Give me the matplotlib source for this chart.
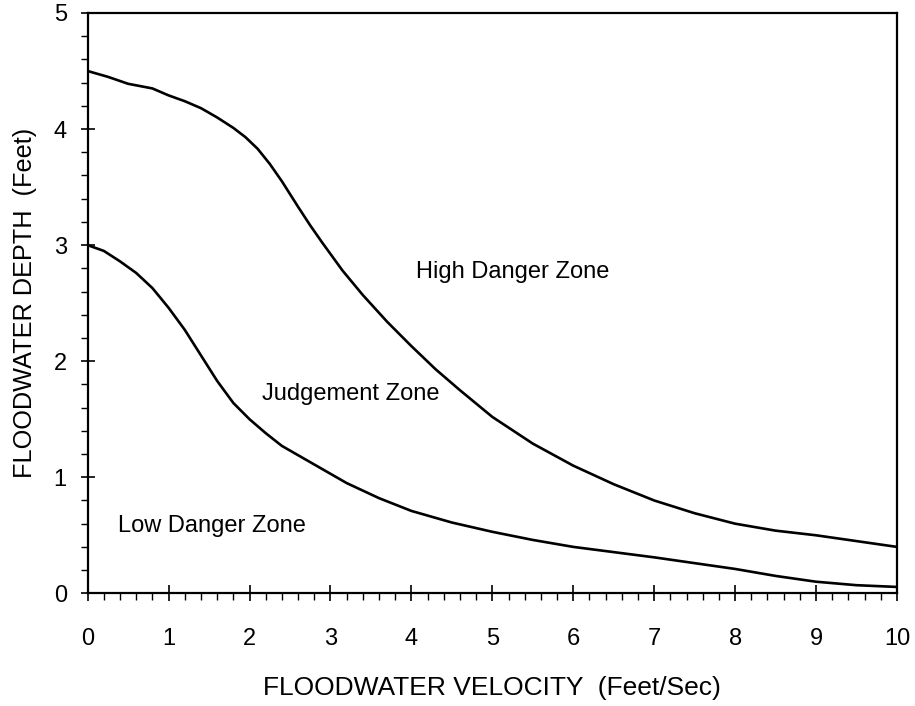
import matplotlib
matplotlib.use("Agg")
import matplotlib.pyplot as plt
from matplotlib.ticker import MultipleLocator

plt.rcParams["font.family"] = ["Liberation Sans", "DejaVu Sans"]

# upper boundary (high danger / judgement)
upper_x = [0, 0.25, 0.5, 0.8, 1.0, 1.2, 1.4, 1.6, 1.8, 1.95, 2.1, 2.25, 2.4, 2.6, 2.75, 2.9, 3.15, 3.4, 3.7, 4.0,
           4.3, 4.6, 5.0, 5.5, 6.0, 6.5, 7.0, 7.5, 8.0, 8.5, 9.0, 9.5, 10.0]
upper_y = [4.5, 4.45, 4.39, 4.35, 4.29, 4.24, 4.18, 4.10, 4.01, 3.93, 3.83, 3.70, 3.55, 3.33, 3.17, 3.02, 2.78, 2.57, 2.34, 2.13,
           1.93, 1.75, 1.52, 1.29, 1.10, 0.94, 0.80, 0.69, 0.60, 0.54, 0.50, 0.45, 0.40]

# lower boundary (judgement / low danger)
lower_x = [0, 0.2, 0.4, 0.6, 0.8, 1.0, 1.2, 1.4, 1.6, 1.8, 2.0, 2.2, 2.4, 2.6, 2.85, 3.2, 3.6, 4.0, 4.5, 5.0,
           5.5, 6.0, 6.5, 7.0, 7.5, 8.0, 8.5, 9.0, 9.5, 10.0]
lower_y = [3.0, 2.95, 2.86, 2.76, 2.63, 2.46, 2.27, 2.05, 1.83, 1.64, 1.50, 1.38, 1.27, 1.19, 1.09, 0.95, 0.82, 0.71, 0.61, 0.53,
           0.46, 0.40, 0.355, 0.31, 0.26, 0.21, 0.15, 0.10, 0.07, 0.055]

zone_labels = ["High Danger Zone", "Judgement Zone", "Low Danger Zone"]
zone_x = [5.25, 3.25, 1.54]
zone_y = [2.77, 1.72, 0.58]

fig = plt.figure(figsize=(9.15, 7.06), dpi=100)
ax = fig.add_axes([0.0958, 0.1596, 0.9803 - 0.0958, 0.9816 - 0.1596])

ax.plot(upper_x, upper_y, color="black", linewidth=1.9)
ax.plot(lower_x, lower_y, color="black", linewidth=1.9)

for t, x, y in zip(zone_labels, zone_x, zone_y):
    ax.text(x, y, t, fontsize=17, ha="center", va="center")

ax.set_xlim(0, 10)
ax.set_ylim(0, 5)
ax.xaxis.set_major_locator(MultipleLocator(1))
ax.xaxis.set_minor_locator(MultipleLocator(0.2))
ax.yaxis.set_major_locator(MultipleLocator(1))
ax.yaxis.set_minor_locator(MultipleLocator(0.2))

ax.tick_params(axis="x", which="major", direction="inout", length=12, width=1.2, labelsize=17, pad=19)
ax.tick_params(axis="y", which="major", direction="inout", length=10, width=1.2, labelsize=17, pad=10)
ax.tick_params(which="minor", direction="out", length=5, width=1.0)

for s in ax.spines.values():
    s.set_linewidth(1.6)

ax.set_xlabel("FLOODWATER VELOCITY  (Feet/Sec)", fontsize=19, labelpad=19)
ax.set_ylabel("FLOODWATER DEPTH  (Feet)", fontsize=18.2, labelpad=12)

fig.savefig("out.png", dpi=100)
